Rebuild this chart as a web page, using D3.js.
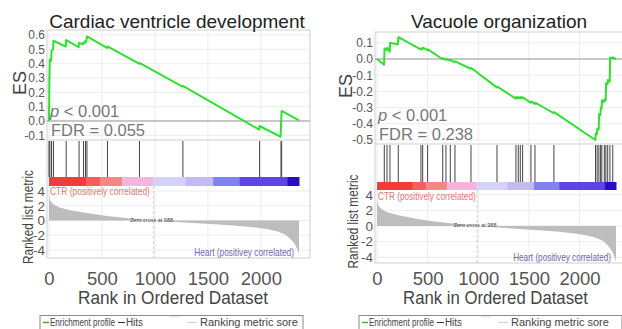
<!DOCTYPE html>
<html>
<head>
<meta charset="utf-8">
<script src="https://cdn.jsdelivr.net/npm/d3@7"></script>
<style>
    body { margin: 0; background: #fff; }
    svg { display: block; font-family: "Liberation Sans", Arial, sans-serif; }
</style>
</head>
<body>
<svg id="chart" width="622" height="329"></svg>
<script>
// ranked gene list shared by both plots
const nGenes = 2360;
const zeroCross = 988;
const xTicks = [0, 500, 1000, 1500, 2000];
const rankTicks = [4, 2, 0, -2, -4];

// ranking metric
const metricRank = [0, 5, 15, 40, 100, 200, 300, 400, 550, 700, 850, 988, 1200, 1400, 1600, 1800, 1950, 2050, 2150, 2230, 2280, 2320, 2345, 2360];
const metricValue = [3.6, 3.0, 2.6, 2.2, 1.75, 1.4, 1.15, 0.9, 0.6, 0.38, 0.18, 0, -0.2, -0.38, -0.55, -0.75, -0.95, -1.15, -1.45, -1.9, -2.5, -3.2, -3.9, -4.6];

// colour strip under the hits
const barBreaks = [0, 350, 480, 690, 980, 1290, 1550, 1800, 2250, 2360];
const barColors = ["#f23c3c", "#f45e5e", "#f48686", "#f5b5dc", "#d5d2f7", "#c2bbf2", "#8181f0", "#5e44e6", "#2a0cc6"];

// Cardiac ventricle development
const cardiacTitle = "Cardiac ventricle development";
const cardiacP = "0.001";
const cardiacFdr = "0.055";
const cardiacEsTicks = [0.6, 0.5, 0.4, 0.3, 0.2, 0.1, 0.0, -0.1];
const cardiacHits = [0, 8, 24, 42, 162, 284, 326, 345, 358, 552, 854, 1264, 1988, 2190, 2196];
const cardiacES = [[0, 0.0], [4, 0.30], [8, 0.43], [20, 0.42], [24, 0.49], [38, 0.50], [42, 0.56], [158, 0.52], [162, 0.565],
    [280, 0.515], [284, 0.545], [322, 0.535], [326, 0.55], [340, 0.545], [345, 0.56], [353, 0.555], [358, 0.59],
    [548, 0.51], [552, 0.52], [850, 0.40], [854, 0.405], [1260, 0.24], [1264, 0.245], [1984, -0.06], [1988, -0.035],
    [2186, -0.11], [2196, 0.07], [2360, 0.005]];

// Vacuole organization
const vacuoleTitle = "Vacuole organization";
const vacuoleP = "0.001";
const vacuoleFdr = "0.238";
const vacuoleEsTicks = [0.1, 0.0, -0.1, -0.2, -0.3, -0.4, -0.5];
const vacuoleHits = [72, 99, 128, 210, 434, 451, 500, 649, 681, 724, 770, 928, 1185, 1372, 1395, 1415, 1438, 1520, 1560,
    1747, 2158, 2174, 2191, 2208, 2220, 2245, 2260, 2278, 2300, 2328];
const vacuoleES = [[0, 0.0], [70, -0.035], [74, 0.065], [97, 0.055], [101, 0.07], [126, 0.045], [130, 0.10], [205, 0.09], [212, 0.135],
    [430, 0.06], [434, 0.065], [448, 0.06], [452, 0.07], [497, 0.055], [502, 0.06], [645, 0.0], [650, 0.005], [678, -0.005],
    [683, 0.0], [720, -0.01], [726, -0.005], [766, -0.02], [772, -0.015], [925, -0.06], [930, -0.055], [1183, -0.175],
    [1188, -0.17], [1370, -0.245], [1374, -0.235], [1393, -0.243], [1397, -0.235], [1413, -0.242], [1418, -0.235],
    [1436, -0.243], [1440, -0.237], [1518, -0.27], [1522, -0.262], [1558, -0.278], [1562, -0.27], [1745, -0.335],
    [1749, -0.328], [2156, -0.50], [2160, -0.46], [2172, -0.465], [2176, -0.43], [2189, -0.435], [2193, -0.34],
    [2206, -0.345], [2210, -0.3], [2218, -0.305], [2222, -0.255], [2243, -0.265], [2247, -0.25], [2258, -0.255],
    [2262, -0.15], [2276, -0.155], [2280, -0.13], [2298, -0.14], [2302, 0.01], [2326, 0.005], [2330, 0.01], [2360, 0.0]];

/**
 * Squeeze a text horizontally so it is `width` px wide.
 * rot = true for the rotated axis label.
 */
function fitText(sel, x, y, width, anchor, rot) {
    sel.attr("x", 0).attr("y", 0).attr("text-anchor", anchor || "start");
    let w = sel.node().getComputedTextLength();
    let sx = w > 0 ? width / w : 1;
    sel.attr("transform", `translate(${x},${y})` + (rot ? " rotate(-90)" : "") + ` scale(${sx},1)`);
    return sel;
}

/** One GSEA enrichment plot (ES curve, hits, colour strip, ranked metric). */
class GseaPlot {
    constructor(svg, opts) {
        this.svg = svg;
        this.o = opts;

        this.x = d3.scaleLinear().domain([0, nGenes]).range([opts.x0, opts.x1]);
        this.yEs = d3.scaleLinear().domain(opts.esDomain).range([opts.esBot, opts.esTop]);
        this.yRank = d3.scaleLinear().domain(opts.rankDomain).range([opts.rankBot, opts.barBot]);
    }

    draw() {
        let o = this.o, x = this.x, yEs = this.yEs, yRank = this.yRank;
        let g = this.svg.append("g");

        // grid
        let grid = g.append("g").attr("stroke", "#ececec").attr("stroke-width", 1);
        grid.selectAll("line.vx").data(xTicks).join("line")
            .attr("x1", d => x(d)).attr("x2", d => x(d))
            .attr("y1", o.esTop).attr("y2", o.hitsBot);
        grid.selectAll("line.vr").data(xTicks).join("line")
            .attr("x1", d => x(d)).attr("x2", d => x(d))
            .attr("y1", o.barBot).attr("y2", o.rankBot);
        grid.selectAll("line.he").data(o.esTicks).join("line")
            .attr("x1", o.boxL).attr("x2", o.boxR)
            .attr("y1", d => yEs(d)).attr("y2", d => yEs(d));
        grid.selectAll("line.hr").data(rankTicks).join("line")
            .attr("x1", o.boxL).attr("x2", o.boxR)
            .attr("y1", d => yRank(d)).attr("y2", d => yRank(d));

        // box + separators
        g.append("rect")
            .attr("x", o.boxL).attr("y", o.esTop)
            .attr("width", o.boxR - o.boxL).attr("height", o.rankBot - o.esTop)
            .attr("fill", "none").attr("stroke", "#cfcfcf");
        g.append("line")
            .attr("x1", o.boxL).attr("x2", o.boxR)
            .attr("y1", o.esBot).attr("y2", o.esBot)
            .attr("stroke", "#cfcfcf");
        g.append("line")
            .attr("x1", o.boxL).attr("x2", o.boxR)
            .attr("y1", yEs(0)).attr("y2", yEs(0))
            .attr("stroke", "#9a9a9a");

        // hits
        g.append("g").selectAll("line").data(o.hits).join("line")
            .attr("x1", d => x(d)).attr("x2", d => x(d))
            .attr("y1", o.esBot + 1).attr("y2", o.hitsBot)
            .attr("stroke", "#444").attr("stroke-width", 1);

        // colour strip
        g.append("g").selectAll("rect").data(barColors).join("rect")
            .attr("x", (c, i) => x(barBreaks[i]))
            .attr("width", (c, i) => x(barBreaks[i + 1]) - x(barBreaks[i]) + 0.5)
            .attr("y", o.hitsBot).attr("height", o.barBot - o.hitsBot)
            .attr("fill", c => c);

        // ranked list metric
        let metric = metricRank.map((r, i) => [r, metricValue[i]]);
        g.append("path").datum(metric)
            .attr("fill", "#bdbdbd")
            .attr("d", d3.area().x(d => x(d[0])).y0(yRank(0)).y1(d => yRank(d[1])));
        g.append("line")
            .attr("x1", x(zeroCross)).attr("x2", x(zeroCross))
            .attr("y1", o.barBot).attr("y2", o.rankBot)
            .attr("stroke", "#cfcfcf").attr("stroke-dasharray", "3,2");
        g.append("text")
            .attr("x", x(zeroCross) - 2).attr("y", yRank(0) + 1.5)
            .attr("text-anchor", "middle").attr("font-size", 5.5).attr("fill", "#444")
            .text("Zero cross at " + zeroCross);
        fitText(g.append("text").attr("font-size", 10).attr("fill", "#e07676")
            .text("CTR (positively correlated)"), o.x0 + 1, o.ctrY, o.noteLen);
        fitText(g.append("text").attr("font-size", 10).attr("fill", "#6a6aa8")
            .text("Heart (positivey correlated)"), o.x1 - 5, o.heartY, o.noteLen, "end");

        // enrichment score line
        g.append("path").datum(o.es)
            .attr("fill", "none").attr("stroke", "#2fe02f").attr("stroke-width", 2)
            .attr("stroke-linejoin", "round")
            .attr("d", d3.line().x(d => x(d[0])).y(d => yEs(d[1])));

        // stats
        let p = g.append("text")
            .attr("x", o.x0 + 1).attr("y", o.pY)
            .attr("font-size", 16.5).attr("fill", "#777");
        p.append("tspan").attr("font-style", "italic").text("p");
        p.append("tspan").text(" < " + o.p);
        g.append("text")
            .attr("x", o.x0 + 2).attr("y", o.pY + 18.5)
            .attr("font-size", 16.5).attr("fill", "#777")
            .text("FDR = " + o.fdr);

        // axes
        let esAxis = g.append("g")
            .attr("transform", `translate(${o.boxL - 2},0)`)
            .call(d3.axisLeft(yEs).tickValues(o.esTicks).tickSize(0).tickPadding(0)
                .tickFormat(d => d.toFixed(1)));
        let rankAxis = g.append("g")
            .attr("transform", `translate(${o.boxL - 2},0)`)
            .call(d3.axisLeft(yRank).tickValues(rankTicks).tickSize(0).tickPadding(0)
                .tickFormat(d => String(d)));
        let xAxis = g.append("g")
            .attr("transform", `translate(0,${o.xTickY})`)
            .call(d3.axisBottom(x).tickValues(xTicks).tickSize(0).tickFormat(d => String(d)));
        [esAxis, rankAxis, xAxis].forEach(a => {
            a.select(".domain").remove();
            a.selectAll("text").attr("font-family", null).attr("fill", "#555");
        });
        esAxis.selectAll("text").attr("font-size", 12);
        rankAxis.selectAll("text").attr("font-size", 13.5);
        xAxis.selectAll("text").attr("font-size", 18.5).attr("y", 0).attr("dy", null);

        // titles
        g.append("text")
            .attr("x", o.titleX).attr("y", 27.5)
            .attr("text-anchor", "middle").attr("font-size", 19).attr("fill", "#222")
            .text(o.title);
        fitText(g.append("text").attr("font-size", 18.5).attr("fill", "#444")
            .text("Rank in Ordered Dataset"), (o.x0 + o.x1) / 2 - 1, 304, o.xLabelLen, "middle");
        g.append("text")
            .attr("transform", `translate(${o.esLabelX},${(o.esTop + o.esBot) / 2 - 2}) rotate(-90)`)
            .attr("text-anchor", "middle").attr("font-size", 18).attr("fill", "#444")
            .text("ES");
        fitText(g.append("text").attr("font-size", 14.5).attr("fill", "#444")
            .text("Ranked list metric"), o.rankLabelX, (o.barBot + o.rankBot) / 2 - 5, 94, "middle", true);

        this.drawLegend(g);
    }

    drawLegend(g) {
        let o = this.o, lx = o.legendX, s = o.legendShift;
        let lg = g.append("g").attr("font-size", 11.5).attr("fill", "#444");
        lg.append("rect")
            .attr("x", lx).attr("y", 315.5).attr("width", 263).attr("height", 20)
            .attr("fill", "#fff").attr("stroke", "#8a8a8a");
        let lineY = 322.5;
        let textY = 326.3;
        lg.append("line").attr("x1", lx + 3).attr("x2", lx + 9).attr("y1", lineY).attr("y2", lineY)
            .attr("stroke", "#4fa83f").attr("stroke-width", 1.5);
        fitText(lg.append("text").text("Enrichment profile"), lx + 10, textY, 65);
        lg.append("line").attr("x1", lx + 78).attr("x2", lx + 85).attr("y1", lineY).attr("y2", lineY)
            .attr("stroke", "#333").attr("stroke-width", 1);
        fitText(lg.append("text").text("Hits"), lx + 86, textY, 17);
        lg.append("line").attr("x1", lx + 130 + s).attr("x2", lx + 140 + s).attr("y1", 317).attr("y2", 317)
            .attr("stroke", "#e2e2e2");
        lg.append("line").attr("x1", lx + 147 + s).attr("x2", lx + 157 + s).attr("y1", lineY).attr("y2", lineY)
            .attr("stroke", "#cfcfcf");
        fitText(lg.append("text").text("Ranking metric sore"), lx + 160 + s, textY, 98);
    }
}

let svg = d3.select("#chart");

new GseaPlot(svg, {
    title: cardiacTitle, p: cardiacP, fdr: cardiacFdr, es: cardiacES, hits: cardiacHits, esTicks: cardiacEsTicks,
    x0: 49, x1: 299, boxL: 47, boxR: 310,
    esTop: 30, esBot: 140, hitsBot: 177, barBot: 186, rankBot: 258,
    esDomain: [-0.1326, 0.635], rankDomain: [-5.1, 4.69],
    titleX: 177, pY: 117, ctrY: 194.5, heartY: 256, noteLen: 100,
    esLabelX: 25.5, rankLabelX: 33, xTickY: 285, xLabelLen: 190,
    legendX: 40, legendShift: 0
}).draw();

new GseaPlot(svg, {
    title: vacuoleTitle, p: vacuoleP, fdr: vacuoleFdr, es: vacuoleES, hits: vacuoleHits, esTicks: vacuoleEsTicks,
    x0: 377, x1: 616, boxL: 375, boxR: 627,
    esTop: 32, esBot: 144, hitsBot: 182, barBot: 190, rankBot: 263,
    esDomain: [-0.525, 0.167], rankDomain: [-4.74, 4.6],
    titleX: 499, pY: 121, ctrY: 199.5, heartY: 261, noteLen: 98,
    esLabelX: 351.5, rankLabelX: 358, xTickY: 285, xLabelLen: 185,
    legendX: 359, legendShift: -8
}).draw();
</script>
</body>
</html>
